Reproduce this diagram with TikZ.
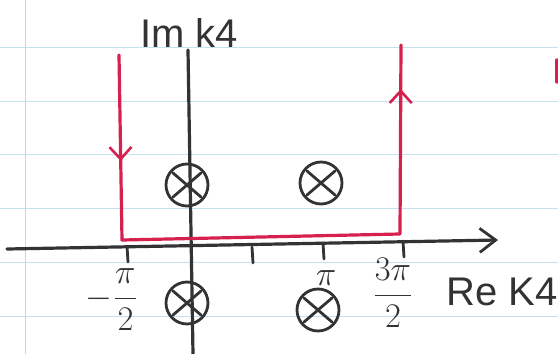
\documentclass[tikz,border=0pt]{standalone}
\usepackage{fontspec}
\setmainfont{Liberation Sans}
\usetikzlibrary{arrows.meta,decorations.markings}
\begin{document}
\begin{tikzpicture}[
    x=0.5pt, y=-0.5pt,
    line cap=round,
    truc/.style={line width=1.6pt, black!80},
    vach/.style={line width=1.4pt, black!80},
    cucdiem/.style={circle, draw, line width=1.4pt, black!80,
      minimum size=21pt, inner sep=0pt,
      path picture={
        \draw[line width=1.4pt]
          ([shift={(-7pt,-6pt)}]path picture bounding box.center) --
          ([shift={(7pt,6pt)}]path picture bounding box.center);
        \draw[line width=1.4pt]
          ([shift={(-7pt,6pt)}]path picture bounding box.center) --
          ([shift={(7pt,-6pt)}]path picture bounding box.center);}},
    nhan/.style={font=\fontsize{20}{24}\selectfont, black!80},
    phanso/.style={font=\fontsize{16}{18}\selectfont, black!80},
    duong/.style={MauDo, line width=1.6pt, line join=round,
      postaction={decorate},
      decoration={markings,
        mark=at position 53pt with {\arrow{Straight Barb[length=6pt,width=11pt,line width=1.3pt]}},
        mark=at position 304pt with {\arrow{Straight Barb[length=6pt,width=11pt,line width=1.3pt]}}}}
  ]
  % ===== MÀU SẮC =====
  \definecolor{MauKe}{RGB}{196,226,238}
  \definecolor{MauLe}{RGB}{240,196,212}
  \definecolor{MauDo}{RGB}{214,32,78}

  \useasboundingbox (0,0) rectangle (558,354);
  \fill[white] (0,0) rectangle (558,354);

  % ===== ĐƯỜNG KẺ GIẤY =====
  \foreach \y in {47,101,154,208,262,316}
    \draw[MauKe, line width=0.5pt] (0,\y) -- (558,\y);
  \draw[MauLe, line width=0.5pt] (25,0) -- (25,354);

  % ===== TRỤC =====
  \coordinate (TrucTrai) at (7,249);
  \coordinate (TrucPhai) at (498,240);
  \coordinate (TrucTren) at (188,50);
  \coordinate (TrucDuoi) at (193,354);
  \draw[truc, -{Straight Barb[length=8pt,width=12pt,line width=1.4pt]}]
    (TrucTrai) -- (TrucPhai);
  \draw[truc] (TrucTren) -- (TrucDuoi);

  \foreach \x/\y in {127/246, 252/247, 323/243, 403/241}
    \draw[vach] (\x,\y) -- ++(1,16);

  % ===== NHÃN =====
  \node[nhan] (NhanIm) at (189,33) {Im k4};
  \node[nhan] (NhanRe) at (502,292) {Re K4};
  \node[phanso] (NhanA) at (112,300) {$-\displaystyle\frac{\pi}{2}$};
  \node[phanso] (NhanPi) at (326,278) {$\pi$};
  \node[phanso] (NhanB) at (393,293) {$\displaystyle\frac{3\pi}{2}$};

  % ===== CỰC ĐIỂM =====
  \node[cucdiem] (P1) at (187,185) {};
  \node[cucdiem] (P2) at (321,183) {};
  \node[cucdiem] (P3) at (187,303) {};
  \node[cucdiem] (P4) at (318,310) {};

  % ===== ĐƯỜNG LẤY TÍCH PHÂN =====
  \coordinate (C1) at (119,55);
  \coordinate (C2) at (122,240);
  \coordinate (C3) at (400,234);
  \coordinate (C4) at (401,45);
  \draw[duong] (C1) -- (C2) -- (C3) -- (C4);
  \draw[MauDo, line width=1.6pt] (557,60) -- (557,82);
\end{tikzpicture}
\end{document}
